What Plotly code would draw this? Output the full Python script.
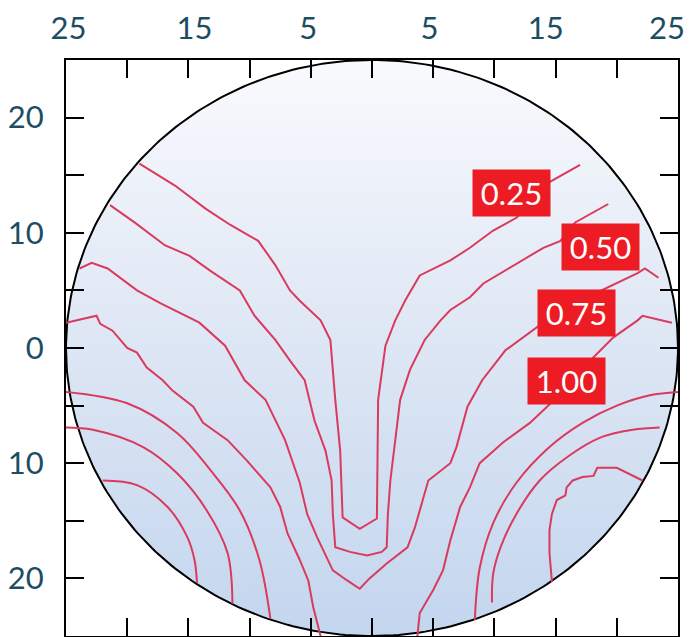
import numpy as np
import plotly.graph_objects as go

# ---- data ----
RADIUS = 25
tick_vals = [-25, -20, -15, -10, -5, 0, 5, 10, 15, 20, 25]
x_label_vals = [-24.8, -14.5, -5.2, 4.7, 14.2, 24.1]
x_label_text = ["25", "15", "5", "5", "15", "25"]
y_tick_text = ["", "20", "", "10", "", "0", "", "10", "", "20", ""]

# contour 0.25
c025_x = [-19.0, -16.1, -13.6, -11.6, -9.3, -7.9, -6.7, -5.9, -4.2, -3.4, -3.0, -2.6, -2.4, -1.0,
          0.4, 0.5, 1.1, 1.9, 2.7, 3.9, 6.4, 8.0, 9.9, 11.8, 14.5, 17.0]
c025_y = [16.0, 14.1, 12.1, 10.7, 9.3, 7.2, 5.0, 4.1, 2.4, 0.7, -4.5, -8.9, -14.7, -15.7,
          -14.8, -4.5, 0.2, 2.4, 4.1, 6.3, 7.6, 8.7, 10.2, 11.3, 14.4, 15.9]
# contour 0.50
c050_x = [-21.4, -19.4, -16.9, -14.9, -13.2, -10.8, -9.6, -7.9, -6.7, -5.5, -4.7, -3.8, -3.3, -3.2,
          -3.0, -1.8, -0.4, 0.8, 1.2, 1.3, 1.5, 1.9, 2.3, 3.1, 4.3, 5.6, 6.4, 8.0, 9.1, 14.0, 15.4,
          16.6, 19.3]
c050_y = [12.4, 10.9, 8.9, 8.0, 6.7, 5.0, 2.8, 0.7, -1.1, -2.8, -6.3, -8.9, -11.5, -14.4,
          -17.3, -17.7, -18.0, -17.7, -17.3, -14.4, -11.5, -8.0, -4.5, -1.9, 0.7, 2.4, 3.3, 4.4, 5.6,
          8.7, 9.3, 10.9, 12.5]
# contour 0.75
c075_x = [-23.9, -22.9, -21.6, -20.3, -19.2, -17.3, -15.1, -14.1, -12.0, -10.4, -8.7, -7.1, -5.9,
          -5.3, -4.5, -3.2, -2.0, -1.0, -0.2, 1.2, 2.9, 3.5, 4.6, 6.4, 6.9, 7.8, 9.0, 10.9, 15.4,
          19.4, 21.7, 22.3, 23.4]
c075_y = [6.9, 7.4, 6.9, 5.9, 5.0, 3.9, 2.7, 2.2, 0.2, -2.8, -4.5, -8.0, -11.7,
          -14.4, -16.4, -19.3, -20.2, -20.9, -20.0, -18.7, -17.3, -15.6, -11.5, -10.0, -8.6, -5.1,
          -2.8, -0.2, 3.3, 5.3, 6.5, 6.9, 6.1]
# contour 1.00 (left and right branches)
c100l_x = [-25.0, -22.5, -22.2, -21.2, -20.0, -19.2, -18.4, -17.1, -16.3, -14.6, -13.8, -11.8,
           -10.2, -8.3, -7.5, -6.9, -5.9, -5.2, -4.8, -4.4, -4.2]
c100l_y = [2.2, 2.8, 2.1, 1.5, 0.0, -0.4, -1.7, -2.8, -3.7, -5.1, -6.5, -8.0,
           -9.8, -12.1, -13.8, -16.1, -18.4, -20.2, -22.5, -24.2, -25.0]
c100r_x = [24.5, 22.1, 21.7, 19.7, 18.1, 16.2, 14.3, 12.9, 10.7, 8.8, 8.0, 7.2, 6.4, 5.8, 5.0, 3.9, 3.7]
c100r_y = [2.2, 2.8, 2.4, 0.9, -0.8, -3.1, -5.1, -6.5, -8.2, -10.0, -12.1, -13.8, -16.7, -19.3,
           -21.0, -23.0, -25.1]
# outer arcs, left corner
arcL1_x = [-25.1, -20.0, -15.9, -13.2, -10.8, -9.2, -8.3]
arcL1_y = [-3.8, -4.8, -7.4, -10.6, -14.1, -18.4, -23.5]
arcL2_x = [-25.1, -22.8, -18.7, -15.9, -13.5, -11.8, -11.4]
arcL2_y = [-6.9, -7.1, -8.6, -10.9, -14.1, -17.8, -22.2]
arcL3_x = [-22.0, -19.2, -16.7, -15.1, -14.5, -14.3]
arcL3_y = [-11.5, -11.9, -13.8, -16.4, -18.4, -20.4]
# outer arcs, right corner
arcR1_x = [25.2, 22.7, 20.0, 17.2, 14.5, 11.8, 9.9, 8.8, 8.4]
arcR1_y = [-3.8, -4.1, -5.0, -6.5, -8.6, -11.7, -15.2, -19.1, -23.6]
arcR2_x = [23.5, 21.3, 18.6, 15.9, 13.7, 11.8, 10.5, 9.9, 9.8]
arcR2_y = [-6.9, -7.1, -7.8, -9.5, -11.5, -14.4, -17.3, -19.6, -22.1]
arcR3_x = [22.1, 20.0, 18.4, 18.1, 17.2, 16.4, 15.9, 15.8, 15.1, 14.7, 14.5, 14.5, 14.7]
arcR3_y = [-11.5, -10.4, -10.4, -11.1, -11.2, -11.5, -12.1, -12.8, -13.2, -14.4, -15.8, -17.8, -20.3]

label_text = ["0.25", "0.50", "0.75", "1.00"]
label_x = [11.36, 18.63, 16.67, 15.85]
label_y = [13.43, 8.74, 3.01, -2.89]

# ---- figure ----
LINE_COLOR = "#d93a5e"
TICK_FONT = dict(family="Lato, Open Sans, sans-serif", size=31, color="#1d4d63")

fig = go.Figure()

theta = np.linspace(0, 2 * np.pi, 361)
fig.add_trace(go.Scatter(
    x=RADIUS * np.cos(theta), y=RADIUS * np.sin(theta),
    mode="lines", fill="toself",
    fillgradient=dict(type="vertical",
                      colorscale=[[0, "#c3d6ee"], [0.5, "#dde6f4"], [1, "#f9fafd"]]),
    line=dict(color="black", width=2), hoverinfo="skip", showlegend=False))

jagged = [(c025_x, c025_y), (c050_x, c050_y), (c075_x, c075_y),
          (c100l_x, c100l_y), (c100r_x, c100r_y), (arcR3_x, arcR3_y)]
smooth = [(arcL1_x, arcL1_y), (arcL2_x, arcL2_y), (arcL3_x, arcL3_y),
          (arcR1_x, arcR1_y), (arcR2_x, arcR2_y)]
for xs, ys in jagged:
    fig.add_trace(go.Scatter(x=xs, y=ys, mode="lines",
                             line=dict(color=LINE_COLOR, width=2),
                             hoverinfo="skip", showlegend=False))
for xs, ys in smooth:
    fig.add_trace(go.Scatter(x=xs, y=ys, mode="lines",
                             line=dict(color=LINE_COLOR, width=2, shape="spline", smoothing=1.0),
                             hoverinfo="skip", showlegend=False))

for t, lx, ly in zip(label_text, label_x, label_y):
    fig.add_annotation(x=lx, y=ly, text=t, showarrow=False,
                       bgcolor="#ed1c24", width=77, height=46, borderpad=0,
                       font=dict(family="Lato, Open Sans, sans-serif", size=31, color="white"))

axis_common = dict(range=[-RADIUS, RADIUS], showgrid=False, zeroline=False, automargin=False,
                   showline=True, linecolor="black", linewidth=2, mirror="ticks",
                   ticks="inside", ticklen=18, tickwidth=2, tickcolor="black")

fig.update_layout(
    width=689, height=637,
    margin=dict(l=66, r=11, t=60, b=1),
    paper_bgcolor="white", plot_bgcolor="white",
    xaxis=dict(side="top", tickmode="array", tickvals=tick_vals, showticklabels=False,
               **axis_common),
    xaxis2=dict(overlaying="x", side="top", matches="x", range=[-RADIUS, RADIUS],
                showgrid=False, zeroline=False, showline=False, ticks="", automargin=False,
                tickmode="array", tickvals=x_label_vals, ticktext=x_label_text,
                tickfont=TICK_FONT, ticklabelstandoff=14, ticklabeloverflow="allow"),
    yaxis=dict(tickmode="array", tickvals=tick_vals, ticktext=y_tick_text,
               tickfont=TICK_FONT, ticklabelstandoff=14, **axis_common),
    hovermode=False,
)
# invisible trace to activate the label axis
fig.add_trace(go.Scatter(x=[0], y=[0], xaxis="x2", mode="markers", marker=dict(opacity=0),
                         hoverinfo="skip", showlegend=False))

fig.write_html("out.html", config={"displayModeBar": False},
               post_script="document.body.style.margin='0';")
